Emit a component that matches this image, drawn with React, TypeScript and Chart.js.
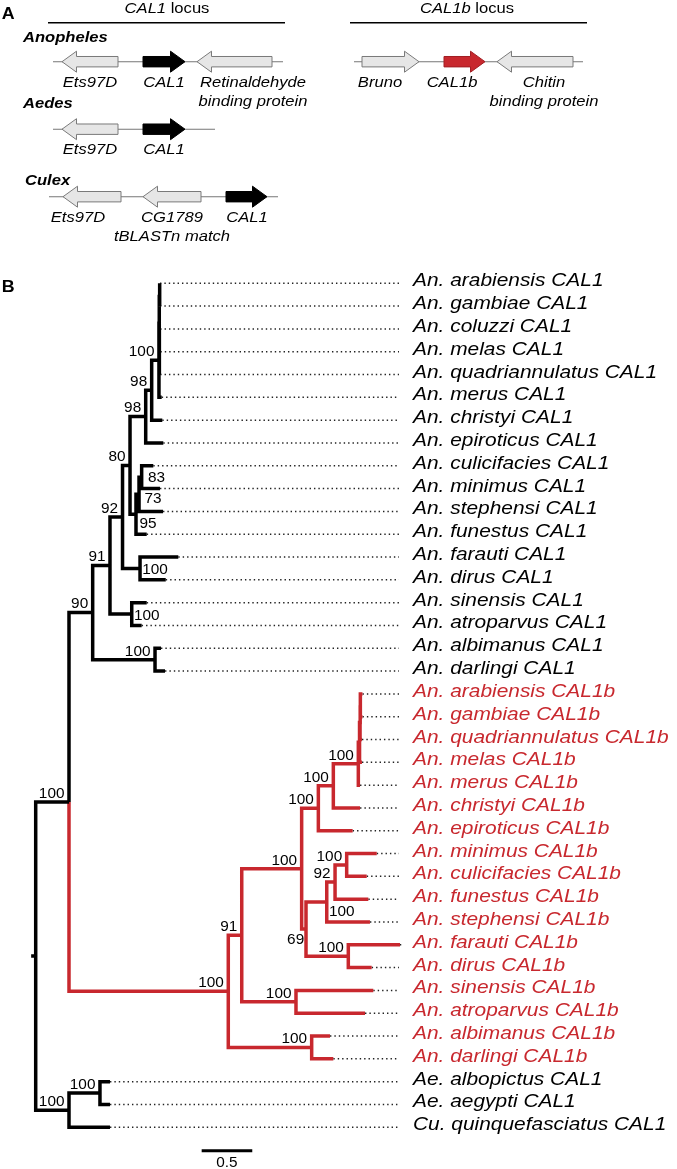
import { useEffect, useRef } from 'react';
import { Chart, registerables } from 'chart.js';

Chart.register(...registerables);

const W = 677;
const H = 1169;
const FONT = '"Liberation Sans", Arial, Helvetica, sans-serif';
const RED = '#c8282e';

// ---------------- Panel A : locus schematics (schematic units) ----------------
const locusTitles = ['CAL1', 'CAL1b'];
const locusTitleX = [16.7, 46.7];
const locusRuleStart = [4.8, 35.0];
const locusRuleEnd = [28.5, 58.7];
const locusRuleRow = -0.578;
const locusTitleRow = -0.726;

const genusNames = ['Anopheles', 'Aedes', 'Culex'];
const genusX = [2.3, 2.3, 2.5];
const genusRow = [-0.296, 0.69, 1.827];

const backboneRow = [0, 1, 2, 0];
const backboneStart = [5.3, 5.3, 4.9, 35.4];
const backboneEnd = [28.3, 21.5, 27.8, 58.3];

const geneNames = ['Ets97D', 'CAL1', 'Retinaldehyde|binding protein', 'Ets97D', 'CAL1', 'Ets97D', 'CG1789|tBLASTn match', 'CAL1', 'Bruno', 'CAL1b', 'Chitin|binding protein'];
const geneRow = [0, 0, 0, 1, 1, 2, 2, 2, 0, 0, 0];
const geneStart = [6.2, 14.3, 19.7, 6.2, 14.3, 6.3, 14.3, 22.6, 36.2, 44.4, 49.7];
const geneEnd = [11.8, 18.5, 27.2, 11.8, 18.5, 12.1, 20.1, 26.7, 41.9, 48.5, 57.3];
const geneStrand = [-1, 1, -1, -1, 1, -1, -1, 1, 1, 1, -1];
const geneKind = ['other', 'CAL1', 'other', 'other', 'CAL1', 'other', 'other', 'CAL1', 'other', 'CAL1b', 'other'];
const geneLabelX = [9.0, 16.4, 25.3, 9.0, 16.4, 7.8, 17.2, 24.7, 38.0, 45.2, 54.4];

const panelLetters = ['A', 'B'];
const panelLetterRow = [-0.633, 3.407];

// ---------------- Panel B : phylogeny ----------------
const tipLabels = [
  'An. arabiensis CAL1', 'An. gambiae CAL1', 'An. coluzzi CAL1', 'An. melas CAL1', 'An. quadriannulatus CAL1',
  'An. merus CAL1', 'An. christyi CAL1', 'An. epiroticus CAL1', 'An. culicifacies CAL1', 'An. minimus CAL1',
  'An. stephensi CAL1', 'An. funestus CAL1', 'An. farauti CAL1', 'An. dirus CAL1', 'An. sinensis CAL1',
  'An. atroparvus CAL1', 'An. albimanus CAL1', 'An. darlingi CAL1',
  'An. arabiensis CAL1b', 'An. gambiae CAL1b', 'An. quadriannulatus CAL1b', 'An. melas CAL1b', 'An. merus CAL1b',
  'An. christyi CAL1b', 'An. epiroticus CAL1b', 'An. minimus CAL1b', 'An. culicifacies CAL1b', 'An. funestus CAL1b',
  'An. stephensi CAL1b', 'An. farauti CAL1b', 'An. dirus CAL1b', 'An. sinensis CAL1b', 'An. atroparvus CAL1b',
  'An. albimanus CAL1b', 'An. darlingi CAL1b',
  'Ae. albopictus CAL1', 'Ae. aegypti CAL1', 'Cu. quinquefasciatus CAL1',
];

const newickCAL1 = `
(
 (
  (
   (
    (
     (
      (
       ((t0:0.006,t1:0.006)q1:0.002,(t2:0.008,t3:0.010,t4:0.008)q2:0.002)q0:0.002,
       t5:0.027
      )C:0.072,
      t6:0.105
     )N98a:0.059,
     t7:0.174
    )N98b:0.155,
    (
     (
      (t8:0.115,t9:0.181)N83:0.026,
      t10:0.237
     )N73:0.030,
     t11:0.106
    )N95:0.059
   )N80:0.074,
   (t12:0.378,t13:0.254)N100fd:0.173
  )N92:0.124,
  (t14:0.148,t15:0.098)N100sa:0.215
 )N91:0.171,
 (t16:0.059,t17:0.099)N100ad:0.616
)N90:0.234`;

const newickCAL1b = `
(
 (
  (
   (
    (
     (
      (
       (
        (t18:0.021,t19:0.021)L1:0.003,
        t20:0.019
       )L2:0.005,
       t21:0.024
      )L3:0.012,
      t22:0.017
     )G1:0.247,
     t23:0.264
    )G2:0.148,
    t24:0.339
   )G3:0.165,
   (
    (
     (
      (t25:0.297,t26:0.198)MC:0.115,
      t27:0.329
     )N92b:0.082,
     t28:0.427
    )FS:0.205,
    (t29:0.511,t30:0.231)FDb:0.418
   )N69:0.043
  )Cb:0.592,
  (t31:0.764,t32:0.682)SAb:0.536
 )N91b:0.133,
 (t33:0.181,t34:0.214)ADb:0.824
)NB:1.574`;

const newickOutgroup = `((t35:0.099,t36:0.099)AE:0.306,t37:0.405)NO:0.329`;

const newick = `((${newickCAL1},${newickCAL1b})NA:0.329,${newickOutgroup})root:0.045;`;

// bootstrap support: [node, value, placement]
const supports: [string, number, string][] = [
  ['NA', 100, 'L'], ['N90', 90, 'L'], ['N91', 91, 'L'], ['N92', 92, 'L'], ['N80', 80, 'L'],
  ['N98b', 98, 'L'], ['N98a', 98, 'L'], ['C', 100, 'L'], ['N83', 83, 'R83'], ['N73', 73, 'R73'],
  ['N95', 95, 'R95'], ['N100fd', 100, 'R'], ['N100sa', 100, 'R'], ['N100ad', 100, 'L'],
  ['NB', 100, 'L'], ['N91b', 91, 'L'], ['Cb', 100, 'L'], ['G3', 100, 'L'], ['G2', 100, 'L'],
  ['G1', 100, 'L'], ['N69', 69, 'LB'], ['FS', 100, 'RB'], ['N92b', 92, 'L'], ['MC', 100, 'L'],
  ['FDb', 100, 'L'], ['SAb', 100, 'L'], ['ADb', 100, 'L'], ['AE', 100, 'L'], ['NO', 100, 'L'],
];

const leaderEnd = 3.59;
const scaleBarStart = 1.64;
const scaleBarLength = 0.5;
const scaleBarRow = 38.03;

// ---------------- tree handling ----------------
type TNode = { name: string; len: number; children: TNode[]; x: number; y: number; isB: boolean; tip: number };

function parseNewick(src: string): TNode {
  const s = src.replace(/\s+/g, '');
  let i = 0;
  function node(): TNode {
    const n: TNode = { name: '', len: 0, children: [], x: 0, y: 0, isB: false, tip: -1 };
    if (s[i] === '(') {
      i++;
      n.children.push(node());
      while (s[i] === ',') {
        i++;
        n.children.push(node());
      }
      i++;
    }
    let name = '';
    while (i < s.length && !',():;'.includes(s[i])) name += s[i++];
    n.name = name;
    if (s[i] === ':') {
      i++;
      let num = '';
      while (i < s.length && !',();'.includes(s[i])) num += s[i++];
      n.len = parseFloat(num);
    }
    return n;
  }
  return node();
}

function layoutTree(root: TNode) {
  const byName: Record<string, TNode> = {};
  const tips: TNode[] = [];
  function walk(n: TNode, x: number) {
    n.x = x;
    byName[n.name] = n;
    if (!n.children.length) {
      n.tip = parseInt(n.name.slice(1), 10);
      n.y = n.tip;
      n.isB = tipLabels[n.tip].endsWith('CAL1b');
      tips.push(n);
      return;
    }
    n.children.forEach((c) => walk(c, x + c.len));
    n.y = (n.children[0].y + n.children[n.children.length - 1].y) / 2;
    n.isB = n.children.every((c) => c.isB);
  }
  walk(root, 0);
  return { byName, tips };
}

const PLACE: Record<string, [CanvasTextAlign, number, number]> = {
  L: ['right', -4.5, -9.3],
  R: ['left', 2.2, 0.8],
  RB: ['left', 2.2, 8.7],
  LB: ['right', -1.8, 9.8],
  R83: ['left', 6.3, 0],
  R73: ['left', 5.5, 4],
  R95: ['left', 3.5, 8.5],
};

function drawText(ctx: CanvasRenderingContext2D, s: string, x: number, y: number, font: string, align: CanvasTextAlign, color: string, sx = 1.07) {
  ctx.save();
  ctx.font = font;
  ctx.fillStyle = color;
  ctx.textAlign = align;
  ctx.textBaseline = 'alphabetic';
  ctx.translate(x, y);
  ctx.scale(sx, 1);
  ctx.fillText(s, 0, 0);
  ctx.restore();
}

export default function App() {
  const ref = useRef<HTMLCanvasElement>(null);

  useEffect(() => {
    const root = parseNewick(newick);
    const { byName, tips } = layoutTree(root);

    const black: any[] = [];
    const red: any[] = [];
    const addEdges = (n: TNode) => {
      n.children.forEach((c) => {
        const arr = c.isB ? red : black;
        arr.push({ x: n.x, y: n.y }, { x: n.x, y: c.y }, { x: c.x, y: c.y }, { x: c.x, y: null });
        addEdges(c);
      });
    };
    addEdges(root);
    black.push({ x: -root.len, y: root.y }, { x: 0, y: root.y }, { x: 0, y: null });

    const leaders: any[] = [];
    tips.forEach((t) => {
      leaders.push({ x: t.x, y: t.y }, { x: Math.max(leaderEnd, t.x + 0.012), y: t.y }, { x: leaderEnd, y: null });
    });

    const backbones: any[] = [];
    backboneRow.forEach((r, k) => {
      backbones.push({ x: backboneStart[k], y: r }, { x: backboneEnd[k], y: r }, { x: backboneEnd[k], y: null });
    });
    const rules: any[] = [];
    locusRuleStart.forEach((s, k) => {
      rules.push({ x: s, y: locusRuleRow }, { x: locusRuleEnd[k], y: locusRuleRow }, { x: locusRuleEnd[k], y: null });
    });

    const lineBase = { type: 'line' as const, pointRadius: 0, pointHoverRadius: 0, spanGaps: false, fill: false, tension: 0, borderCapStyle: 'butt' as const, borderJoinStyle: 'miter' as const };

    const figurePlugin = {
      id: 'figureDrawing',
      afterDatasetsDraw(chart: any) {
        const ctx: CanvasRenderingContext2D = chart.ctx;
        const xs = chart.scales.x;
        const ys = chart.scales.y;
        const xa = chart.scales.xA;
        const ya = chart.scales.yA;

        // gene arrows
        const bh = 5.2, hh = 10.5, hl = 14.5;
        geneNames.forEach((name, k) => {
          const y = ya.getPixelForValue(geneRow[k]);
          const s = xa.getPixelForValue(geneStart[k]);
          const e = xa.getPixelForValue(geneEnd[k]);
          ctx.save();
          ctx.beginPath();
          if (geneStrand[k] > 0) {
            ctx.moveTo(s, y - bh);
            ctx.lineTo(e - hl, y - bh);
            ctx.lineTo(e - hl, y - hh);
            ctx.lineTo(e, y);
            ctx.lineTo(e - hl, y + hh);
            ctx.lineTo(e - hl, y + bh);
            ctx.lineTo(s, y + bh);
          } else {
            ctx.moveTo(e, y - bh);
            ctx.lineTo(s + hl, y - bh);
            ctx.lineTo(s + hl, y - hh);
            ctx.lineTo(s, y);
            ctx.lineTo(s + hl, y + hh);
            ctx.lineTo(s + hl, y + bh);
            ctx.lineTo(e, y + bh);
          }
          ctx.closePath();
          const kind = geneKind[k];
          ctx.fillStyle = kind === 'CAL1' ? '#000' : kind === 'CAL1b' ? RED : '#e6e6e6';
          ctx.strokeStyle = kind === 'CAL1' ? '#000' : kind === 'CAL1b' ? '#a11e23' : '#7a7a7a';
          ctx.lineWidth = 1;
          ctx.fill();
          ctx.stroke();
          ctx.restore();
          const lines = name.split('|');
          const lx = xa.getPixelForValue(geneLabelX[k]);
          lines.forEach((ln, j) => {
            drawText(ctx, ln, lx, y + 25 + j * 19, `italic 15.5px ${FONT}`, 'center', '#000');
          });
        });

        // genus labels
        genusNames.forEach((g, k) => {
          drawText(ctx, g, xa.getPixelForValue(genusX[k]), ya.getPixelForValue(genusRow[k]), `italic bold 15.5px ${FONT}`, 'left', '#000');
        });

        // locus titles (italic gene name + regular "locus")
        locusTitles.forEach((t, k) => {
          const sx = 1.07;
          ctx.save();
          ctx.font = `italic 15.5px ${FONT}`;
          const w1 = ctx.measureText(t).width * sx;
          ctx.font = `15.5px ${FONT}`;
          const w2 = ctx.measureText(' locus').width * sx;
          ctx.restore();
          const cx = xa.getPixelForValue(locusTitleX[k]);
          const y = ya.getPixelForValue(locusTitleRow);
          const x0 = cx - (w1 + w2) / 2;
          drawText(ctx, t, x0, y, `italic 15.5px ${FONT}`, 'left', '#000', sx);
          drawText(ctx, ' locus', x0 + w1, y, `15.5px ${FONT}`, 'left', '#000', sx);
        });

        // panel letters
        panelLetters.forEach((p, k) => {
          drawText(ctx, p, xa.getPixelForValue(0.17), ya.getPixelForValue(panelLetterRow[k]), `bold 17px ${FONT}`, 'left', '#000', 1.05);
        });

        // tip labels
        const labelX = xs.getPixelForValue(leaderEnd) + 14;
        tips.forEach((t) => {
          const lbl = tipLabels[t.tip];
          drawText(ctx, lbl, labelX, ys.getPixelForValue(t.y) + 3, `italic 19px ${FONT}`, 'left', t.isB ? RED : '#000', 1.1);
        });

        // bootstrap values
        supports.forEach(([id, val, side]) => {
          const n = byName[id];
          if (!n) return;
          const [align, dx, dy] = PLACE[side];
          drawText(ctx, String(val), xs.getPixelForValue(n.x) + dx, ys.getPixelForValue(n.y) + dy + 5.2, `14.5px ${FONT}`, align, '#000', 1.06);
        });

        // scale bar label
        drawText(ctx, String(scaleBarLength), xs.getPixelForValue(scaleBarStart + scaleBarLength / 2), ys.getPixelForValue(scaleBarRow) + 16.6, `14.5px ${FONT}`, 'center', '#000', 1.06);
      },
    };

    const chart = new Chart(ref.current as HTMLCanvasElement, {
      type: 'line',
      data: {
        datasets: [
          { ...lineBase, data: black, borderColor: '#000', borderWidth: 3.5, xAxisID: 'x', yAxisID: 'y' },
          { ...lineBase, data: red, borderColor: RED, borderWidth: 3.5, xAxisID: 'x', yAxisID: 'y' },
          {
            ...lineBase,
            data: [{ x: scaleBarStart, y: scaleBarRow }, { x: scaleBarStart + scaleBarLength, y: scaleBarRow }],
            borderColor: '#000', borderWidth: 3.2, xAxisID: 'x', yAxisID: 'y',
          },
          { ...lineBase, data: leaders, borderColor: '#222', borderWidth: 1.5, borderDash: [1.4, 3.0], xAxisID: 'x', yAxisID: 'y' },
          { ...lineBase, data: rules, borderColor: '#000', borderWidth: 1.6, xAxisID: 'xA', yAxisID: 'yA' },
          { ...lineBase, data: backbones, borderColor: '#777', borderWidth: 1.1, xAxisID: 'xA', yAxisID: 'yA' },
        ] as any,
      },
      options: {
        responsive: false,
        maintainAspectRatio: false,
        devicePixelRatio: 1,
        animation: false,
        events: [],
        layout: { padding: 0 },
        plugins: { legend: { display: false }, tooltip: { enabled: false } },
        scales: {
          x: { type: 'linear', display: false, min: -0.3528, max: 6.337 },
          y: { type: 'linear', display: false, reverse: true, min: -12.42, max: 38.829 },
          xA: { type: 'linear', axis: 'x', display: false, min: 0, max: 67.7 },
          yA: { type: 'linear', axis: 'y', display: false, reverse: true, min: -0.914, max: 16.404 },
        } as any,
      },
      plugins: [figurePlugin],
    });
    return () => chart.destroy();
  }, []);

  return (
    <div style={{ position: 'absolute', left: 0, top: 0, width: W, height: H, background: '#fff' }}>
      <canvas ref={ref} width={W} height={H} style={{ display: 'block', width: W, height: H }} />
    </div>
  );
}
